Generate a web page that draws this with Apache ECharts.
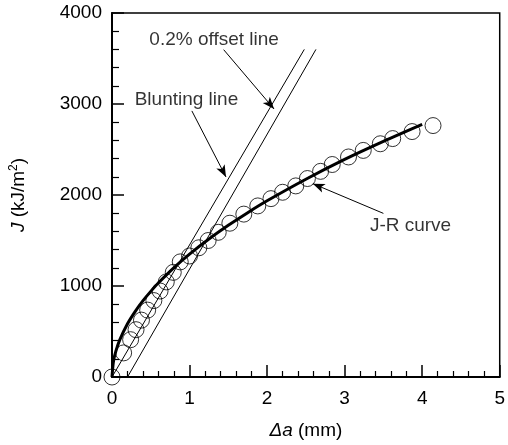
<!DOCTYPE html>
<html>
<head>
<meta charset="utf-8">
<script src="https://cdn.jsdelivr.net/npm/echarts@6/dist/echarts.min.js"></script>
<style>html,body{margin:0;padding:0;background:#fff;}#c{width:508px;height:445px;}</style>
</head>
<body>
<div id="c"></div>
<script>
// Experimental data points (Δa in mm, J in kJ/m²)
var crackExt = [0, 0.15, 0.24, 0.31, 0.38, 0.46, 0.54, 0.62, 0.70, 0.79, 0.88, 1.0, 1.12, 1.24, 1.37, 1.52, 1.70, 1.88, 2.05, 2.2, 2.37, 2.52, 2.69, 2.84, 3.05, 3.24, 3.46, 3.62, 3.87, 4.14];
var jValues  = [0, 265, 410, 520, 625, 735, 840, 945, 1045, 1150, 1265, 1330, 1420, 1500, 1590, 1690, 1790, 1880, 1960, 2030, 2100, 2181, 2260, 2335, 2418, 2490, 2563, 2620, 2697, 2763];

// J-R fit curve
var fitExt = [0, 0.02, 0.05, 0.1, 0.2, 0.3, 0.4, 0.5, 0.6, 0.8, 1.0, 1.25, 1.5, 1.75, 2.0, 2.5, 3.0, 3.5, 4.0];
var fitJ   = [0, 177, 284, 408, 585, 722, 839, 941, 1035, 1202, 1350, 1516, 1667, 1806, 1936, 2173, 2391, 2589, 2776];

// Construction lines
var bluntingExt = [0, 2.48];
var bluntingJ   = [0, 3600];
var offsetExt   = [0.2, 2.63];
var offsetJ     = [0, 3600];

// Annotations
var noteTexts = ['0.2% offset line', 'Blunting line', 'J-R curve'];
var noteExt   = [1.317, 0.96, 3.85];
var noteJ     = [3706, 3052, 1661];
var arrowFromExt = [1.44, 1.03, 3.50];
var arrowFromJ   = [3597, 2924, 1798];
var arrowToExt   = [2.09, 1.47, 2.59];
var arrowToJ     = [2945, 2198, 2125];

// Axis ticks
var xTicks = [0, 1, 2, 3, 4, 5];
var yTicks = [0, 1000, 2000, 3000, 4000];

function zip(a, b) { return a.map(function (v, i) { return [v, b[i]]; }); }

var FONT = 'Liberation Sans';
var chart = echarts.init(document.getElementById('c'), null, {renderer: 'canvas'});
chart.setOption({
  animation: false,
  backgroundColor: '#fff',
  grid: {left: 112, right: 4, top: 13, bottom: 65, show: true, borderColor: '#000', borderWidth: 1.5, backgroundColor: 'transparent'},
  xAxis: {
    type: 'value', min: xTicks[0], max: xTicks[xTicks.length - 1], interval: 1,
    axisLine: {show: true, onZero: false, lineStyle: {color: '#000', width: 2}},
    axisTick: {show: true, inside: true, length: 12, lineStyle: {color: '#000', width: 1.5}},
    minorTick: {show: true, splitNumber: 5, length: 6, lineStyle: {color: '#000', width: 1.2}},
    splitLine: {show: false},
    axisLabel: {color: '#000', fontSize: 19, fontFamily: FONT, margin: 12, formatter: function (v) { return String(v); }},
    name: '{i|Δa} (mm)', nameLocation: 'middle', nameGap: 44,
    nameTextStyle: {color: '#000', fontSize: 19, fontFamily: FONT, rich: {i: {fontStyle: 'italic', fontSize: 19, fontFamily: FONT, color: '#000'}}}
  },
  yAxis: {
    type: 'value', min: yTicks[0], max: yTicks[yTicks.length - 1], interval: 1000,
    axisLine: {show: true, onZero: false, lineStyle: {color: '#000', width: 2}},
    axisTick: {show: true, inside: true, length: 12, lineStyle: {color: '#000', width: 1.5}},
    minorTick: {show: true, splitNumber: 5, length: 7, lineStyle: {color: '#000', width: 1.2}},
    splitLine: {show: false},
    axisLabel: {color: '#000', fontSize: 19, fontFamily: FONT, margin: 10, formatter: function (v) { return String(v); }},
    name: '{i|J} (kJ/m{s|2})', nameLocation: 'middle', nameGap: 82, nameRotate: 90,
    nameTextStyle: {color: '#000', fontSize: 19, fontFamily: FONT,
      rich: {i: {fontStyle: 'italic', fontSize: 19, fontFamily: FONT, color: '#000'},
             s: {fontSize: 12, fontFamily: FONT, color: '#000', verticalAlign: 'bottom', padding: [0, 0, 10, 0]}}}
  },
  series: [
    {type: 'line', data: zip(bluntingExt, bluntingJ), symbol: 'none', lineStyle: {color: '#000', width: 1}, silent: true, z: 2},
    {type: 'line', data: zip(offsetExt, offsetJ), symbol: 'none', lineStyle: {color: '#000', width: 1}, silent: true, z: 2},
    {type: 'scatter', data: zip(crackExt, jValues), symbol: 'circle', symbolSize: 16,
     itemStyle: {color: 'transparent', borderColor: '#000', borderWidth: 1}, z: 3},
    {type: 'line', data: zip(fitExt, fitJ), smooth: 0.3, symbol: 'none', lineStyle: {color: '#000', width: 3}, z: 4,
     markLine: {silent: true, symbol: ['none', 'arrow'], symbolSize: [7, 12], precision: 4,
       lineStyle: {color: '#000', width: 1, type: 'solid'}, label: {show: false},
       data: arrowFromExt.map(function (v, i) { return [{coord: [v, arrowFromJ[i]]}, {coord: [arrowToExt[i], arrowToJ[i]]}]; })}},
    {type: 'scatter', symbolSize: 0, silent: true, z: 5,
     data: noteTexts.map(function (t, i) { return {name: t, value: [noteExt[i], noteJ[i]]}; }),
     label: {show: true, position: 'inside', formatter: function (p) { return p.name; }, color: '#000', fontSize: 19, fontFamily: FONT}}
  ]
});
</script>
</body>
</html>
